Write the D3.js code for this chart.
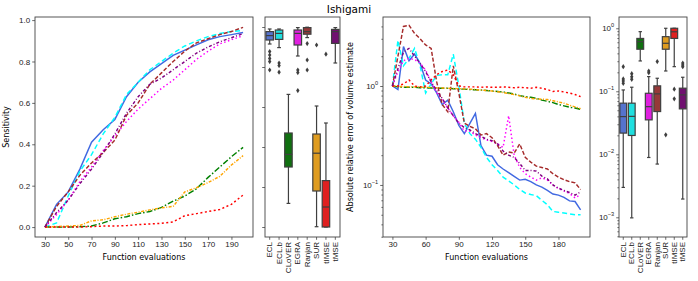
<!DOCTYPE html>
<html>
<head>
<meta charset="utf-8">
<script src="https://cdn.jsdelivr.net/npm/d3@7"></script>
<style>
  body { margin: 0; background: #fff; }
  svg { font-family: "DejaVu Sans", sans-serif; display: block; }
</style>
</head>
<body>
<svg></svg>
<script>
// methods, in the order they are drawn
let methods = ['ECL', 'ECL.b', 'CLoVER', 'EGRA', 'Ranjan', 'SUR', 'tIMSE', 'tMSE'];

// sensitivity vs. number of function evaluations
let evalsSens = [30, 40, 50, 60, 70, 80, 90, 100, 110, 120, 130, 140, 150, 160, 170, 180, 190, 200];
let sensECL    = [0, 0.11, 0.17, 0.28, 0.41, 0.47, 0.52, 0.63, 0.70, 0.75, 0.79, 0.83, 0.855, 0.88, 0.905, 0.92, 0.93, 0.94];
let sensECLb   = [0, 0.02, 0.15, 0.27, 0.35, 0.45, 0.53, 0.64, 0.70, 0.76, 0.80, 0.84, 0.875, 0.90, 0.92, 0.935, 0.945, 0.95];
let sensCLoVER = [0, 0, 0, 0.002, 0.005, 0.02, 0.04, 0.05, 0.065, 0.075, 0.095, 0.125, 0.15, 0.185, 0.24, 0.29, 0.34, 0.385];
let sensEGRA   = [0, 0.06, 0.13, 0.22, 0.29, 0.37, 0.44, 0.51, 0.57, 0.62, 0.67, 0.71, 0.76, 0.81, 0.85, 0.885, 0.905, 0.925];
let sensRanjan = [0, 0.10, 0.17, 0.25, 0.31, 0.36, 0.42, 0.54, 0.60, 0.69, 0.745, 0.80, 0.85, 0.89, 0.91, 0.93, 0.945, 0.965];
let sensSUR    = [0, 0.003, 0.005, 0.008, 0.03, 0.035, 0.05, 0.062, 0.072, 0.083, 0.093, 0.10, 0.17, 0.19, 0.215, 0.245, 0.30, 0.345];
let sensTIMSE  = [0, 0, 0, 0, 0.002, 0.005, 0.005, 0.007, 0.012, 0.015, 0.018, 0.025, 0.055, 0.065, 0.075, 0.085, 0.11, 0.155];
let sensTMSE   = [0, 0.07, 0.13, 0.21, 0.28, 0.36, 0.45, 0.55, 0.63, 0.69, 0.72, 0.76, 0.80, 0.84, 0.87, 0.895, 0.915, 0.935];

// relative error of the volume estimate
let evalsErr = [30, 35, 40, 45, 50, 55, 60, 65, 70, 75, 80, 85, 90, 95, 100, 105, 110, 115, 120,
  125, 130, 135, 140, 145, 150, 155, 160, 165, 170, 175, 180, 185, 190, 195, 200];
let errECL    = [1.0, 0.92, 2.5, 1.8, 2.1, 1.7, 1.15, 1.05, 0.85, 0.65, 0.72, 0.55, 0.40, 0.33, 0.42, 0.53, 0.25, 0.20,
  0.195, 0.16, 0.145, 0.133, 0.122, 0.112, 0.114, 0.108, 0.10, 0.095, 0.088, 0.081, 0.079, 0.075, 0.069, 0.068, 0.056];
let errECLb   = [1.0, 2.9, 1.6, 1.9, 2.4, 1.6, 0.85, 1.05, 1.28, 1.3, 1.3, 2.1, 1.0, 0.42, 0.33, 0.29, 0.24, 0.19,
  0.16, 0.14, 0.12, 0.11, 0.10, 0.09, 0.083, 0.08, 0.078, 0.07, 0.063, 0.054, 0.053, 0.052, 0.051, 0.05, 0.05];
let errCLoVER = [1.0, 0.98, 0.97, 0.97, 0.97, 0.96, 0.96, 0.955, 0.95, 0.95, 0.95, 0.94, 0.93, 0.93, 0.92, 0.915, 0.91, 0.90,
  0.89, 0.88, 0.87, 0.85, 0.83, 0.80, 0.78, 0.77, 0.75, 0.72, 0.70, 0.68, 0.65, 0.63, 0.61, 0.60, 0.58];
let errEGRA   = [1.0, 1.4, 1.8, 1.9, 1.85, 1.7, 1.45, 1.1, 0.86, 0.72, 0.6, 0.5, 0.43, 0.35, 0.35, 0.32, 0.30, 0.285,
  0.275, 0.26, 0.24, 0.5, 0.2, 0.15, 0.13, 0.12, 0.112, 0.118, 0.112, 0.10, 0.092, 0.087, 0.082, 0.074, 0.08];
let errRanjan = [1.0, 2.0, 4.0, 4.1, 3.4, 3.0, 2.6, 2.4, 1.1, 0.65, 0.55, 1.6, 0.85, 0.42, 0.39, 0.37, 0.32, 0.33,
  0.30, 0.25, 0.20, 0.215, 0.21, 0.26, 0.19, 0.17, 0.155, 0.15, 0.145, 0.13, 0.12, 0.113, 0.108, 0.105, 0.09];
let errSUR    = [1.0, 0.99, 0.99, 0.98, 0.98, 0.975, 0.97, 0.965, 0.96, 0.955, 0.95, 0.945, 0.94, 0.935, 0.93, 0.92, 0.91, 0.90,
  0.89, 0.875, 0.86, 0.84, 0.82, 0.795, 0.77, 0.75, 0.74, 0.735, 0.73, 0.71, 0.69, 0.67, 0.64, 0.615, 0.59];
let errTIMSE  = [1.0, 1.0, 1.05, 1.15, 1.0, 0.98, 1.0, 1.15, 1.3, 1.4, 1.45, 1.3, 1.0, 0.98, 0.98, 0.98, 0.97, 0.98,
  0.97, 0.97, 0.98, 0.97, 0.96, 0.97, 0.96, 0.95, 0.97, 0.95, 0.92, 0.88, 0.89, 0.87, 0.85, 0.82, 0.78];
let errTMSE   = [1.0, 1.5, 2.2, 2.4, 2.0, 1.7, 1.4, 1.1, 0.9, 0.75, 0.6, 0.5, 0.42, 0.38, 0.36, 0.33, 0.31, 0.29,
  0.28, 0.26, 0.22, 0.2, 0.19, 0.165, 0.14, 0.14, 0.138, 0.123, 0.115, 0.10, 0.093, 0.088, 0.084, 0.079, 0.085];

// final sensitivity over replicates: [whisker low, q1, median, q3, whisker high]
let sensBoxStats = [
  [0.915, 0.935, 0.957, 0.977, 0.99],
  [0.897, 0.938, 0.968, 0.985, 0.99],
  [0.118, 0.30, 0.363, 0.47, 0.663],
  [0.855, 0.91, 0.968, 0.985, 0.997],
  [0.947, 0.964, 0.977, 0.997, 0.999],
  [0.0015, 0.18, 0.369, 0.465, 0.605],
  [0, 0, 0.10, 0.232, 0.52],
  [0.82, 0.918, 0.977, 0.988, 0.997]
];
let sensBoxOutliers = [
  [0.877, 0.86, 0.843, 0.827, 0.785],
  [0.82, 0.807, 0.774],
  [],
  [0.785, 0.772, 0.682],
  [0.917, 0.835, 0.785],
  [0.91],
  [0.864],
  []
];

// final volume error over replicates
let errBoxStats = [
  [0.00298, 0.0217, 0.0397, 0.0648, 0.105],
  [0.00098, 0.0199, 0.040, 0.0648, 0.116],
  [0.303, 0.465, 0.613, 0.69, 0.884],
  [0.0089, 0.0352, 0.057, 0.093, 0.171],
  [0.007, 0.0477, 0.091, 0.122, 0.161],
  [0.21, 0.465, 0.578, 0.736, 1.0],
  [0.246, 0.69, 0.88, 1.0, 1.0],
  [0.00195, 0.0526, 0.0877, 0.112, 0.167]
];
let errBoxOutliers = [
  [0.246, 0.157, 0.146, 0.134],
  [0.19, 0.17, 0.155],
  [],
  [0.21, 0.197],
  [0.296],
  [0.0204],
  [0.108, 0.076],
  [0.28, 0.262, 0.246]
];

let sensSeries = [sensECL, sensECLb, sensCLoVER, sensEGRA, sensRanjan, sensSUR, sensTIMSE, sensTMSE];
let errSeries = [errECL, errECLb, errCLoVER, errEGRA, errRanjan, errSUR, errTIMSE, errTMSE];

// styles
let lineColors = ['#4169e1', '#00ffff', '#008000', '#ff00ff', '#a52a2a', '#ffa500', '#ff0000', '#800080'];
let boxColors = ['#5573cd', '#20dfdf', '#107010', '#df20df', '#963939', '#df9c20', '#df2020', '#701070'];
let dashes = [null, '5,3', '6,2,1.5,2', '1.5,2.5', '4,2', '3,1.5,1,1.5', '2,2.5', '3,2,1,2'];

let vWidth = 698;
let vHeight = 281;
let frameColor = '#444';
let boxLine = '#3f3f3f';

let svg = d3.select('svg')
  .attr('width', vWidth)
  .attr('height', vHeight)

svg.append('text')
  .attr('x', 349)
  .attr('y', 13)
  .attr('text-anchor', 'middle')
  .style('font-size', '10.5px')
  .text('Ishigami')

function frame(p) {
  svg.append('rect')
    .attr('x', p.x0)
    .attr('y', p.y0)
    .attr('width', p.x1 - p.x0)
    .attr('height', p.y1 - p.y0)
    .attr('fill', 'none')
    .attr('stroke', frameColor)
    .attr('stroke-width', 0.9)
}

function styleAxis(g) {
  g.select('.domain').remove()
  g.selectAll('line').attr('stroke', frameColor).attr('stroke-width', 0.8)
  g.selectAll('text').style('font-size', '8px').attr('fill', '#222')
}

function powLabel(sel, v) {
  let e = Math.round(Math.log10(v))
  sel.text('')
  sel.append('tspan').text('10')
  sel.append('tspan')
    .attr('dy', -4)
    .style('font-size', '5.6px')
    .text(e < 0 ? '\u2212' + (-e) : '' + e)
}

function minorTicks(y, lo, hi) {
  let out = []
  for (let k = Math.floor(Math.log10(lo)); k <= Math.ceil(Math.log10(hi)); k++) {
    for (let m = 2; m <= 9; m++) {
      let v = m * Math.pow(10, k)
      if (v >= lo && v <= hi) out.push(v)
    }
  }
  return out
}

function linePanel(p, xDomain, y, xTicks, series, xValues, yLabel, yTicks, isLog) {
  let x = d3.scaleLinear().domain(xDomain).range([p.x0, p.x1])
  let id = 'clip' + p.x0
  svg.append('clipPath').attr('id', id)
    .append('rect')
    .attr('x', p.x0).attr('y', p.y0)
    .attr('width', p.x1 - p.x0).attr('height', p.y1 - p.y0)

  let g = svg.append('g').attr('clip-path', `url(#${id})`)
  let line = d3.line()
    .x((d, i) => {
      return x(xValues[i])
    })
    .y((d) => {
      return y(d)
    })

  series.forEach((s, i) => {
    g.append('path')
      .attr('d', line(s))
      .attr('fill', 'none')
      .attr('stroke', lineColors[i])
      .attr('stroke-width', 1.45)
      .attr('stroke-dasharray', dashes[i])
  })

  frame(p)

  let xa = svg.append('g')
    .attr('transform', `translate(0, ${p.y1})`)
    .call(d3.axisBottom(x).tickValues(xTicks).tickSize(2.8).tickPadding(2).tickFormat(d3.format('d')))
  styleAxis(xa)

  let ya = svg.append('g')
    .attr('transform', `translate(${p.x0}, 0)`)
    .call(d3.axisLeft(y).tickValues(yTicks).tickSize(2.8).tickPadding(2)
      .tickFormat(isLog ? (() => '') : d3.format('.1f')))
  styleAxis(ya)
  if (isLog) {
    ya.selectAll('.tick text').each(function (d) {
      powLabel(d3.select(this), d)
    })
    let dom = y.domain()
    let ym = svg.append('g')
      .attr('transform', `translate(${p.x0}, 0)`)
      .call(d3.axisLeft(y).tickValues(minorTicks(y, dom[0], dom[1])).tickSize(1.6).tickFormat(''))
    styleAxis(ym)
  }

  svg.append('text')
    .attr('x', (p.x0 + p.x1) / 2)
    .attr('y', p.y1 + 23)
    .attr('text-anchor', 'middle')
    .style('font-size', '8px')
    .text('Function evaluations')

  svg.append('text')
    .attr('transform', `translate(${yLabel.x}, ${(p.y0 + p.y1) / 2}) rotate(-90)`)
    .attr('text-anchor', 'middle')
    .style('font-size', '8px')
    .text(yLabel.text)
}

function boxPanel(p, y, stats, outliers, yTicks, isLog) {
  let x = d3.scaleBand().domain(methods).range([p.x0, p.x1]).paddingInner(0.2).paddingOuter(0.1)
  let xc = (m) => {
    return x(m) + x.bandwidth() / 2
  }
  let bw = x.bandwidth()

  let g = svg.append('g')
  methods.forEach((m, i) => {
    let s = stats[i]
    let cx = xc(m)
    // whiskers
    g.append('line').attr('x1', cx).attr('x2', cx).attr('y1', y(s[0])).attr('y2', y(s[1]))
      .attr('stroke', boxLine).attr('stroke-width', 1.2)
    g.append('line').attr('x1', cx).attr('x2', cx).attr('y1', y(s[3])).attr('y2', y(s[4]))
      .attr('stroke', boxLine).attr('stroke-width', 1.2)
    // caps
    ;[s[0], s[4]].forEach((v) => {
      g.append('line').attr('x1', cx - bw / 4).attr('x2', cx + bw / 4).attr('y1', y(v)).attr('y2', y(v))
        .attr('stroke', boxLine).attr('stroke-width', 1.2)
    })
    // box
    g.append('rect')
      .attr('x', cx - bw / 2)
      .attr('y', y(s[3]))
      .attr('width', bw)
      .attr('height', Math.max(0.5, y(s[1]) - y(s[3])))
      .attr('fill', boxColors[i])
      .attr('stroke', boxLine)
      .attr('stroke-width', 1.2)
    // median
    g.append('line').attr('x1', cx - bw / 2).attr('x2', cx + bw / 2).attr('y1', y(s[2])).attr('y2', y(s[2]))
      .attr('stroke', boxLine).attr('stroke-width', 1.2)
    // outliers as thin diamonds
    outliers[i].forEach((v) => {
      let oy = y(v)
      g.append('path')
        .attr('d', `M${cx},${oy - 2.6}L${cx + 1.7},${oy}L${cx},${oy + 2.6}L${cx - 1.7},${oy}Z`)
        .attr('fill', boxLine)
    })
  })

  frame(p)

  let xa = svg.append('g')
    .attr('transform', `translate(0, ${p.y1})`)
    .call(d3.axisBottom(x).tickSize(2.8).tickPadding(2))
  styleAxis(xa)
  xa.selectAll('.tick text')
    .attr('transform', 'rotate(-90)')
    .attr('text-anchor', 'end')
    .attr('x', -5)
    .attr('y', 0)
    .attr('dy', '0.33em')

  let ya = svg.append('g')
    .attr('transform', `translate(${p.x0}, 0)`)
    .call(d3.axisLeft(y).tickValues(yTicks).tickSize(2.8).tickPadding(2).tickFormat(() => ''))
  styleAxis(ya)
  if (isLog) {
    ya.selectAll('.tick text').each(function (d) {
      powLabel(d3.select(this), d)
    })
    let dom = y.domain()
    let ym = svg.append('g')
      .attr('transform', `translate(${p.x0}, 0)`)
      .call(d3.axisLeft(y).tickValues(minorTicks(y, dom[0], dom[1])).tickSize(1.6).tickFormat(''))
    styleAxis(ym)
  }
}

// panel rectangles
let pSensLine = {x0: 35, x1: 253, y0: 17, y1: 237};
let pSensBox = {x0: 265, x1: 340, y0: 17, y1: 237};
let pErrLine = {x0: 383, x1: 590, y0: 17, y1: 237};
let pErrBox = {x0: 619, x1: 687, y0: 17, y1: 237};

let ySens = d3.scaleLinear().domain([-0.048, 1.015]).range([pSensLine.y1, pSensLine.y0])
linePanel(pSensLine, [21.5, 208.5], ySens, [30, 50, 70, 90, 110, 130, 150, 170, 190],
  sensSeries, evalsSens, {x: 9, text: 'Sensitivity'}, [0, 0.2, 0.4, 0.6, 0.8, 1.0], false)

let ySensBox = d3.scaleLinear().domain([-0.05, 1.05]).range([pSensBox.y1, pSensBox.y0])
boxPanel(pSensBox, ySensBox, sensBoxStats, sensBoxOutliers, [0, 0.2, 0.4, 0.6, 0.8, 1.0], false)

let yErr = d3.scaleLog().domain([0.0298, 4.98]).range([pErrLine.y1, pErrLine.y0])
linePanel(pErrLine, [21.5, 208.5], yErr, [30, 60, 90, 120, 150, 180],
  errSeries, evalsErr, {x: 353, text: 'Absolute relative error of volume estimate'}, [0.1, 1], true)

let yErrBox = d3.scaleLog().domain([4.87e-4, 1.51]).range([pErrBox.y1, pErrBox.y0])
boxPanel(pErrBox, yErrBox, errBoxStats, errBoxOutliers, [0.001, 0.01, 0.1, 1], true)
</script>
</body>
</html>
